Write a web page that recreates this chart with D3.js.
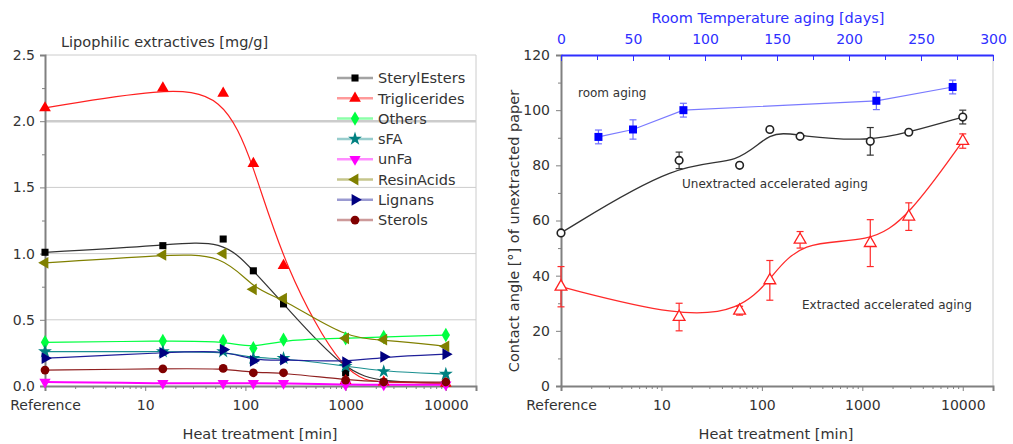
<!DOCTYPE html>
<html>
<head>
<meta charset="utf-8">
<script src="https://cdn.jsdelivr.net/npm/d3@7"></script>
<style>
body { margin: 0; background: #fff; }
svg { display: block; font-family: "DejaVu Sans", Verdana, sans-serif; }
</style>
</head>
<body>
<div id="vis"></div>
<script>
// ---- left panel: lipophilic extractives ----
const lipTimes = [1, 15, 60, 120, 240, 1000, 2400, 10000];
const lipNames = ['SterylEsters', 'Triglicerides', 'Others', 'sFA', 'unFa', 'ResinAcids', 'Lignans', 'Sterols'];
const sterylEsters  = [1.01, 1.06, 1.11, 0.87, 0.62, 0.10, 0.03, 0.02];
const triglicerides = [2.10, 2.25, 2.21, 1.68, 0.91, 0.04, 0.03, 0.02];
const others        = [0.33, 0.34, 0.34, 0.285, 0.35, 0.36, 0.37, 0.385];
const sFA           = [0.26, 0.26, 0.26, 0.21, 0.21, 0.15, 0.11, 0.09];
const unFa          = [0.03, 0.02, 0.02, 0.02, 0.02, 0.01, 0.01, 0.01];
const resinAcids    = [0.93, 0.99, 1.00, 0.73, 0.66, 0.36, 0.35, 0.30];
const lignans       = [0.21, 0.25, 0.275, 0.19, 0.20, 0.18, 0.22, 0.24];
const sterols       = [0.12, 0.13, 0.133, 0.10, 0.10, 0.045, 0.03, 0.03];
const lipValues = [sterylEsters, triglicerides, others, sFA, unFa, resinAcids, lignans, sterols];
const lipYTicks = [0, 0.5, 1, 1.5, 2, 2.5];

// ---- right panel: contact angle ----
const roomDays  = [26, 50, 85, 219, 272];
const roomAngle = [90.3, 93, 100, 103.4, 108.4];
const roomErr   = [2.5, 3.5, 2.5, 3.2, 2.5];
const accTimes    = [1, 15, 60, 120, 240, 1200, 2900, 10000];
const unextAngle  = [55.5, 81.8, 80, 93, 90.5, 88.7, 92, 97.5];
const unextErr    = [0, 3, 0, 0, 0, 5, 0, 2.5];
const extAngle    = [36, 25, 27.3, 38.3, 53, 51.8, 61.4, 88.8];
const extErr      = [7.3, 5, 1.6, 7.2, 3, 8.5, 5, 2.6];
const angleTicks = [0, 20, 40, 60, 80, 100, 120];
const dayTicks = [0, 50, 100, 150, 200, 250, 300];

const heatTicks = [1, 10, 100, 1000, 10000];
const heatTickLabels = ['Reference', '10', '100', '1000', '10000'];

// styles (kept apart from the data)
const seriesStyle = {
    SterylEsters:  { color: '#000000', line: '#333333', symbol: d3.symbolSquare, rot: 0, size: 50 },
    Triglicerides: { color: '#ff0000', line: '#ff2020', symbol: d3.symbolTriangle, rot: 0, size: 60 },
    Others:        { color: '#00ff40', line: '#00ff40', symbol: d3.symbolDiamond, rot: 0, size: 60 },
    sFA:           { color: '#008080', line: '#1a9090', symbol: d3.symbolStar, rot: 0, size: 60 },
    unFa:          { color: '#ff00ff', line: '#ff00ff', symbol: d3.symbolTriangle, rot: 180, size: 55 },
    ResinAcids:    { color: '#808000', line: '#808000', symbol: d3.symbolTriangle, rot: -90, size: 60 },
    Lignans:       { color: '#000080', line: '#20209a', symbol: d3.symbolTriangle, rot: 90, size: 60 },
    Sterols:       { color: '#800000', line: '#902020', symbol: d3.symbolCircle, rot: 0, size: 60 }
};
const textColor = '#333';
const axisColor = '#808080';
const blue = '#2f2fff';

const svg = d3.select('#vis').append('svg')
    .attr('width', 1013).attr('height', 444);
svg.append('rect').attr('width', 1013).attr('height', 444).attr('fill', '#fff');

function styleAxis(g, color, width, fontSize, fill) {
    g.select('.domain').attr('stroke', color).attr('stroke-width', width);
    g.selectAll('.tick line').attr('stroke', color).attr('stroke-width', 1);
    g.selectAll('.tick text').attr('fill', fill).attr('font-size', fontSize)
        .attr('font-family', '"DejaVu Sans", Verdana, sans-serif');
}

function minorLog(scale) {
    return scale.ticks().filter(d => Math.abs(Math.log10(d) - Math.round(Math.log10(d))) > 1e-6);
}

function heatAxis(g, x, y0) {
    const major = g.append('g').attr('transform', `translate(0,${y0})`)
        .call(d3.axisBottom(x).tickValues(heatTicks)
            .tickFormat((d, i) => heatTickLabels[i]).tickSize(5).tickPadding(9));
    styleAxis(major, axisColor, 2, 14, textColor);
    const minor = g.append('g').attr('transform', `translate(0,${y0})`)
        .call(d3.axisBottom(x).tickValues(minorLog(x)).tickFormat('').tickSize(3));
    minor.select('.domain').remove();
    minor.selectAll('.tick line').attr('stroke', axisColor);
}

// ================= LEFT =================
const x1 = d3.scaleLog().domain([1, 20000]).range([45, 476]);
const y1 = d3.scaleLinear().domain([0, 2.5]).range([386, 55]);
const left = svg.append('g');

left.selectAll('line.grid').data(lipYTicks.filter(d => d > 0)).join('line')
    .attr('class', 'grid')
    .attr('x1', x1(1)).attr('x2', x1(20000))
    .attr('y1', d => y1(d)).attr('y2', d => y1(d))
    .attr('stroke', '#cccccc').attr('stroke-width', d => d === 2 ? 2.5 : 1);
left.append('line').attr('x1', x1(20000)).attr('x2', x1(20000))
    .attr('y1', y1(0)).attr('y2', y1(2.5)).attr('stroke', '#cccccc');

const ly = left.append('g').attr('transform', `translate(${x1(1)},0)`)
    .call(d3.axisLeft(y1).tickValues(lipYTicks).tickFormat(d3.format('.1f')).tickSize(5).tickPadding(5));
styleAxis(ly, axisColor, 2, 14, textColor);
const lyMinor = left.append('g').attr('transform', `translate(${x1(1)},0)`)
    .call(d3.axisLeft(y1).tickValues(d3.range(0.25, 2.5, 0.5)).tickFormat('').tickSize(3));
lyMinor.select('.domain').remove();
lyMinor.selectAll('.tick line').attr('stroke', axisColor);
heatAxis(left, x1, y1(0));

left.append('text').attr('x', 61).attr('y', 47).attr('fill', textColor)
    .attr('font-size', 14.5).text('Lipophilic extractives [mg/g]');
left.append('text').attr('x', 260).attr('y', 439).attr('text-anchor', 'middle')
    .attr('fill', textColor).attr('font-size', 14.5).text('Heat treatment [min]');

const lipSeries = lipNames.map((name, i) => ({
    name: name,
    points: lipTimes.map((t, j) => ({ t: t, v: lipValues[i][j] }))
}));

const lipLine = d3.line().x(d => x1(d.t)).y(d => y1(d.v)).curve(d3.curveBasis);
left.selectAll('path.fit').data(lipSeries).join('path')
    .attr('class', 'fit')
    .attr('d', d => lipLine(d.points))
    .attr('fill', 'none')
    .attr('stroke', d => seriesStyle[d.name].line)
    .attr('stroke-width', d => d.name === 'unFa' ? 2 : 1.2);

lipSeries.forEach(s => {
    const st = seriesStyle[s.name];
    left.append('g').selectAll('path').data(s.points).join('path')
        .attr('d', d3.symbol().type(st.symbol).size(st.size))
        .attr('transform', d => `translate(${x1(d.t)},${y1(d.v)}) rotate(${st.rot})`)
        .attr('fill', st.color);
});

// legend
const legend = left.append('g');
lipNames.forEach((name, i) => {
    const st = seriesStyle[name];
    const yy = 78 + i * 20.3;
    legend.append('line').attr('x1', 337).attr('x2', 373).attr('y1', yy).attr('y2', yy)
        .attr('stroke', st.line).attr('stroke-opacity', 0.45).attr('stroke-width', 2.5);
    legend.append('path')
        .attr('d', d3.symbol().type(st.symbol).size(st.size))
        .attr('transform', `translate(355,${yy}) rotate(${st.rot})`)
        .attr('fill', st.color);
    legend.append('text').attr('x', 378).attr('y', yy).attr('dy', '0.36em')
        .attr('fill', textColor).attr('font-size', 14.5).text(name);
});

// ================= RIGHT =================
const x2 = d3.scaleLog().domain([1, 20000]).range([561, 993]);
const xTop = d3.scaleLinear().domain([0, 300]).range([561, 993]);
const y2 = d3.scaleLinear().domain([0, 120]).range([386, 55]);
const right = svg.append('g');

right.append('line').attr('x1', x2(20000)).attr('x2', x2(20000))
    .attr('y1', y2(0)).attr('y2', y2(120)).attr('stroke', '#cccccc');

const ry = right.append('g').attr('transform', `translate(${x2(1)},0)`)
    .call(d3.axisLeft(y2).tickValues(angleTicks).tickSize(5).tickPadding(6));
styleAxis(ry, axisColor, 2, 14, textColor);
const ryMinor = right.append('g').attr('transform', `translate(${x2(1)},0)`)
    .call(d3.axisLeft(y2).tickValues(d3.range(10, 120, 20)).tickFormat('').tickSize(3));
ryMinor.select('.domain').remove();
ryMinor.selectAll('.tick line').attr('stroke', axisColor);
heatAxis(right, x2, y2(0));

const topAxis = right.append('g').attr('transform', `translate(0,${y2(120)})`)
    .call(d3.axisTop(xTop).tickValues(dayTicks).tickSizeInner(-6).tickSizeOuter(0).tickPadding(11));
styleAxis(topAxis, blue, 2, 14, blue);
const topMinor = right.append('g').attr('transform', `translate(0,${y2(120)})`)
    .call(d3.axisTop(xTop).tickValues(d3.range(25, 300, 50)).tickFormat('').tickSizeInner(-5).tickSizeOuter(0));
topMinor.select('.domain').remove();
topMinor.selectAll('.tick line').attr('stroke', blue);

right.append('text').attr('x', 768).attr('y', 23).attr('text-anchor', 'middle')
    .attr('fill', blue).attr('font-size', 14.5).text('Room Temperature aging [days]');
right.append('text').attr('x', 776).attr('y', 439).attr('text-anchor', 'middle')
    .attr('fill', textColor).attr('font-size', 14.5).text('Heat treatment [min]');
right.append('text').attr('transform', 'translate(519,231) rotate(-90)')
    .attr('text-anchor', 'middle').attr('fill', textColor).attr('font-size', 14.5)
    .text('Contact angle [°] of unextracted paper');

right.append('text').attr('x', 578).attr('y', 97).attr('fill', textColor)
    .attr('font-size', 12).text('room aging');
right.append('text').attr('x', 682).attr('y', 188).attr('fill', textColor)
    .attr('font-size', 12).text('Unextracted accelerated aging');
right.append('text').attr('x', 802).attr('y', 309).attr('fill', textColor)
    .attr('font-size', 12).text('Extracted accelerated aging');

function errorBars(g, pts, xs, color) {
    const eb = g.append('g').selectAll('g').data(pts.filter(d => d.e > 0)).join('g')
        .attr('stroke', color).attr('stroke-width', 1.2);
    eb.append('line').attr('x1', d => xs(d.t)).attr('x2', d => xs(d.t))
        .attr('y1', d => y2(d.v - d.e)).attr('y2', d => y2(d.v + d.e));
    eb.append('line').attr('x1', d => xs(d.t) - 3.5).attr('x2', d => xs(d.t) + 3.5)
        .attr('y1', d => y2(d.v - d.e)).attr('y2', d => y2(d.v - d.e));
    eb.append('line').attr('x1', d => xs(d.t) - 3.5).attr('x2', d => xs(d.t) + 3.5)
        .attr('y1', d => y2(d.v + d.e)).attr('y2', d => y2(d.v + d.e));
}

// room aging (top axis, days)
const roomPts = roomDays.map((t, i) => ({ t: t, v: roomAngle[i], e: roomErr[i] }));
right.append('path')
    .attr('d', d3.line().x(d => xTop(d.t)).y(d => y2(d.v))(roomPts))
    .attr('fill', 'none').attr('stroke', '#7a7aff').attr('stroke-width', 1.2);
errorBars(right, roomPts, xTop, '#7070ff');
right.append('g').selectAll('path').data(roomPts).join('path')
    .attr('d', d3.symbol().type(d3.symbolSquare).size(64))
    .attr('transform', d => `translate(${xTop(d.t)},${y2(d.v)})`)
    .attr('fill', '#0000ff');

// accelerated aging (bottom axis, minutes)
const accLine = d3.line().x(d => x2(d.t)).y(d => y2(d.v)).curve(d3.curveBasis);
const unextPts = accTimes.map((t, i) => ({ t: t, v: unextAngle[i], e: unextErr[i] }));
const extPts = accTimes.map((t, i) => ({ t: t, v: extAngle[i], e: extErr[i] }));

right.append('path').attr('d', accLine(unextPts))
    .attr('fill', 'none').attr('stroke', '#333').attr('stroke-width', 1.3);
right.append('path').attr('d', accLine(extPts))
    .attr('fill', 'none').attr('stroke', '#ff2a2a').attr('stroke-width', 1.3);
errorBars(right, unextPts, x2, '#333');
errorBars(right, extPts, x2, '#ff2a2a');

right.append('g').selectAll('path').data(unextPts).join('path')
    .attr('d', d3.symbol().type(d3.symbolCircle).size(45))
    .attr('transform', d => `translate(${x2(d.t)},${y2(d.v)})`)
    .attr('fill', '#fff').attr('stroke', '#222').attr('stroke-width', 1.6);
right.append('g').selectAll('path').data(extPts).join('path')
    .attr('d', d3.symbol().type(d3.symbolTriangle).size(60))
    .attr('transform', d => `translate(${x2(d.t)},${y2(d.v)})`)
    .attr('fill', '#fff').attr('stroke', '#ff2020').attr('stroke-width', 1.3);
</script>
</body>
</html>
